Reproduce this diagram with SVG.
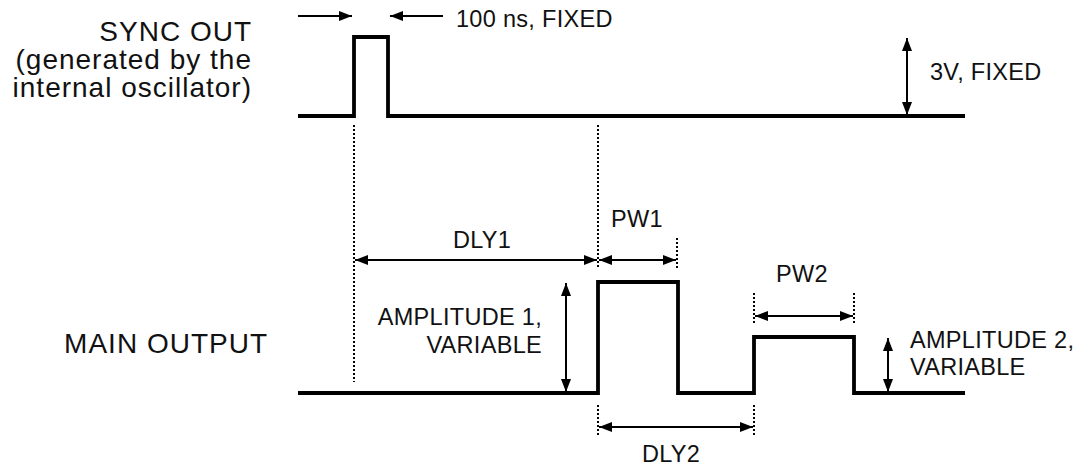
<svg xmlns="http://www.w3.org/2000/svg" width="1080" height="468" viewBox="0 0 1080 468">
<style>
text{font-family:"Liberation Sans",Arial,sans-serif;fill:#111}
.lbl{font-size:28px;letter-spacing:1px}
.sm{font-size:23.5px;letter-spacing:0.3px}
.sig{fill:none;stroke:#000;stroke-width:3.8;stroke-linejoin:miter}
.dim{stroke:#000;stroke-width:2;fill:none}
.dot{stroke:#000;stroke-width:2;stroke-dasharray:2 2;fill:none}
</style>
<defs>
<marker id="ah" viewBox="0 0 13 10" refX="13" refY="5" markerWidth="13" markerHeight="10" markerUnits="userSpaceOnUse" orient="auto-start-reverse">
<path d="M0,0 L13,5 L0,10 z" fill="#000"/>
</marker>
</defs>
<g id="labels">
<text class="lbl" x="252" y="41" text-anchor="end">SYNC OUT</text>
<text class="lbl" x="252" y="69" text-anchor="end">(generated by the</text>
<text class="lbl" x="252" y="97" text-anchor="end">internal oscillator)</text>
<text class="lbl" x="268" y="353" text-anchor="end">MAIN OUTPUT</text>
</g>
<g id="sync-signal">
<path class="sig" d="M298,116 H354 V37 H388 V116 H965"/>
</g>
<g id="main-signal">
<path class="sig" d="M298,393 H598 V282 H678 V393 H754 V337 H854 V393 H965"/>
</g>
<g id="connectors">
<line class="dot" x1="354" y1="125" x2="354" y2="382"/>
<line class="dot" x1="598" y1="125" x2="598" y2="269"/>
<line class="dot" x1="677" y1="238" x2="677" y2="269"/>
<line class="dot" x1="754" y1="293" x2="754" y2="324"/>
<line class="dot" x1="854" y1="293" x2="854" y2="324"/>
<line class="dot" x1="598" y1="405" x2="598" y2="436"/>
<line class="dot" x1="754" y1="405" x2="754" y2="436"/>
<line class="dim" x1="298" y1="16" x2="352" y2="16" marker-end="url(#ah)"/>
<line class="dim" x1="443" y1="16" x2="390" y2="16" marker-end="url(#ah)"/>
<line class="dim" x1="907" y1="38" x2="907" y2="115" marker-start="url(#ah)" marker-end="url(#ah)"/>
<line class="dim" x1="355" y1="260" x2="597" y2="260" marker-start="url(#ah)" marker-end="url(#ah)"/>
<line class="dim" x1="599" y1="260" x2="676" y2="260" marker-start="url(#ah)" marker-end="url(#ah)"/>
<line class="dim" x1="755" y1="316" x2="853" y2="316" marker-start="url(#ah)" marker-end="url(#ah)"/>
<line class="dim" x1="599" y1="427" x2="753" y2="427" marker-start="url(#ah)" marker-end="url(#ah)"/>
<line class="dim" x1="566" y1="283" x2="566" y2="392" marker-start="url(#ah)" marker-end="url(#ah)"/>
<line class="dim" x1="888" y1="338" x2="888" y2="392" marker-start="url(#ah)" marker-end="url(#ah)"/>
</g>
<g id="dim-labels">
<text class="sm" x="456" y="27">100 ns, FIXED</text>
<text class="sm" x="930" y="80">3V, FIXED</text>
<text class="sm" x="482" y="248" text-anchor="middle">DLY1</text>
<text class="sm" x="637" y="227" text-anchor="middle">PW1</text>
<text class="sm" x="802" y="282" text-anchor="middle">PW2</text>
<text class="sm" x="542" y="325" text-anchor="end">AMPLITUDE 1,</text>
<text class="sm" x="542" y="353" text-anchor="end">VARIABLE</text>
<text class="sm" x="910" y="348">AMPLITUDE 2,</text>
<text class="sm" x="910" y="375">VARIABLE</text>
<text class="sm" x="671" y="462" text-anchor="middle">DLY2</text>
</g>
</svg>
